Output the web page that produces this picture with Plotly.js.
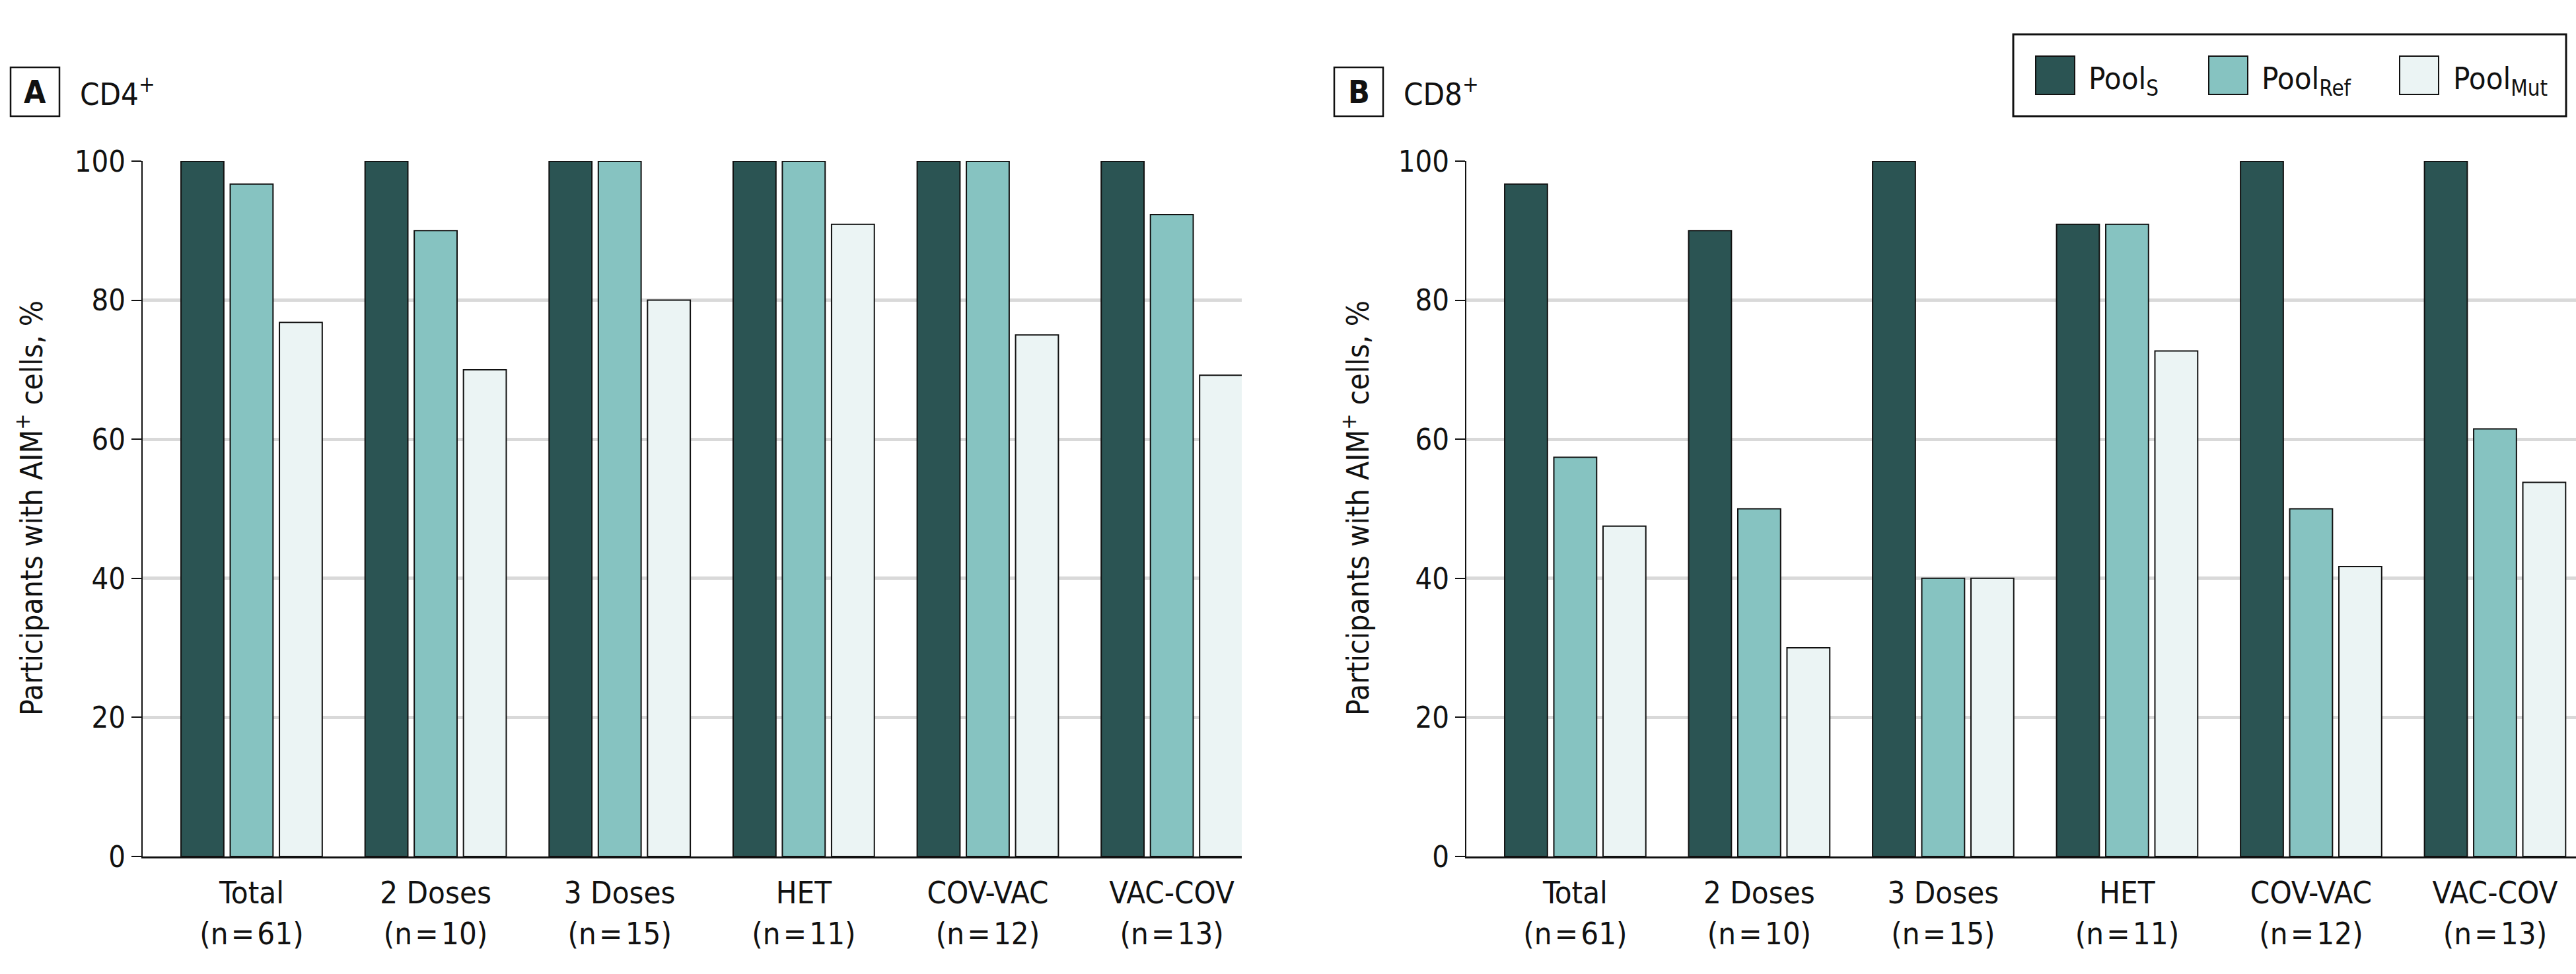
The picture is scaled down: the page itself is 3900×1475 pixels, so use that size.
<!DOCTYPE html>
<html>
<head>
<meta charset="utf-8">
<script src="https://cdn.plot.ly/plotly-3.0.1.min.js"></script>
<style>html,body{margin:0;padding:0;background:#fff;}#chart{width:3900px;height:1475px;}</style>
</head>
<body>
<div id="chart"></div>
<script>
// ---- data ----
const categories = ['Total', '2 Doses', '3 Doses', 'HET', 'COV-VAC', 'VAC-COV'];
const nCounts = [61, 10, 15, 11, 12, 13];
const seriesNames = ['Pool<sub>S</sub>', 'Pool<sub>Ref</sub>', 'Pool<sub>Mut</sub>'];
const cd4PoolS   = [100, 100, 100, 100, 100, 100];
const cd4PoolRef = [96.7, 90.0, 100, 100, 100, 92.3];
const cd4PoolMut = [76.8, 70.0, 80.0, 90.9, 75.0, 69.2];
const cd8PoolS   = [96.7, 90.0, 100, 90.9, 100, 100];
const cd8PoolRef = [57.4, 50.0, 40.0, 90.9, 50.0, 61.5];
const cd8PoolMut = [47.5, 30.0, 40.0, 72.7, 41.7, 53.8];
const yTicks = [0, 20, 40, 60, 80, 100];
const panelLetters = ['A', 'B'];
const panelTitles = ['CD4<sup>+</sup>', 'CD8<sup>+</sup>'];
const yTitle = 'Participants with AIM<sup>+</sup> cells, %';

// ---- style ----
const W = 3900, H = 1475;
const FONT = '"DejaVu Sans Condensed", "Liberation Sans Narrow", "DejaVu Sans", sans-serif';
const colors = ['#2b5453', '#86c3c1', '#ebf4f4'];
const px = x => x / W;
const py = y => 1 - y / H;

const tickText = categories.map((c, i) => c + '<br>(n\u200A=\u200A' + nCounts[i] + ')');
const xIdx = categories.map((c, i) => i);

const panels = [
  {vals: [cd4PoolS, cd4PoolRef, cd4PoolMut], xa: 'x', ya: 'y'},
  {vals: [cd8PoolS, cd8PoolRef, cd8PoolMut], xa: 'x2', ya: 'y2'}
];
const traces = [];
panels.forEach(p => {
  p.vals.forEach((v, k) => {
    traces.push({
      type: 'bar', x: xIdx, y: v, name: seriesNames[k],
      xaxis: p.xa, yaxis: p.ya, showlegend: false,
      marker: {color: colors[k], line: {color: '#111', width: 2}},
      hoverinfo: 'y'
    });
  });
});

const yDom = [py(1297), py(244)];
function xaxisDef(dom, rng) {
  return {
    domain: dom, range: rng, tickmode: 'array', tickvals: xIdx, ticktext: tickText,
    showline: true, linecolor: '#111', linewidth: 3, ticks: '', showgrid: false, zeroline: false,
    ticklabelstandoff: 12,
    tickfont: {family: FONT, size: 47, color: '#111'}, fixedrange: true
  };
}
function yaxisDef(anchor) {
  return {
    domain: yDom, range: [0, 100], anchor: anchor, tickmode: 'array', tickvals: yTicks,
    showline: true, linecolor: '#111', linewidth: 2, ticks: 'outside', ticklen: 15, tickwidth: 2, tickcolor: '#111',
    showgrid: true, gridcolor: '#d9d9d9', gridwidth: 5, zeroline: false,
    tickfont: {family: FONT, size: 45, color: '#111'}, fixedrange: true
  };
}

const shapes = [];
const annotations = [];
// panel label boxes and titles
const panelBoxX = [16, 2020];
const panelTitleX = [119, 2123];
const yTitleX = [45, 2053];
panelLetters.forEach((L, i) => {
  shapes.push({type: 'rect', xref: 'paper', yref: 'paper', x0: px(panelBoxX[i]), x1: px(panelBoxX[i] + 74), y0: py(176), y1: py(102), line: {color: '#111', width: 2.5}, fillcolor: 'rgba(0,0,0,0)'});
  annotations.push({xref: 'paper', yref: 'paper', x: px(panelBoxX[i] + 37), y: py(139), text: '<b>' + L + '</b>', showarrow: false, xanchor: 'center', yanchor: 'middle', font: {family: FONT, size: 48, color: '#111'}});
  annotations.push({xref: 'paper', yref: 'paper', x: px(panelTitleX[i]), y: py(139), text: panelTitles[i], showarrow: false, xanchor: 'left', yanchor: 'middle', font: {family: FONT, size: 47, color: '#111'}});
  annotations.push({xref: 'paper', yref: 'paper', x: px(yTitleX[i]), y: py(770), text: yTitle, textangle: -90, showarrow: false, xanchor: 'center', yanchor: 'middle', font: {family: FONT, size: 46, color: '#111'}});
});

// legend (drawn manually for large swatches)
shapes.push({type: 'rect', xref: 'paper', yref: 'paper', x0: px(3048), x1: px(3885), y0: py(176), y1: py(52), line: {color: '#111', width: 3}, fillcolor: '#fff'});
const swX = [3082, 3344, 3633];
const txX = [3160, 3422, 3712];
seriesNames.forEach((n, k) => {
  shapes.push({type: 'rect', xref: 'paper', yref: 'paper', x0: px(swX[k]), x1: px(swX[k] + 59), y0: py(143), y1: py(85), line: {color: '#111', width: 2}, fillcolor: colors[k]});
  annotations.push({xref: 'paper', yref: 'paper', x: px(txX[k]), y: py(122), text: n, showarrow: false, xanchor: 'left', yanchor: 'middle', font: {family: FONT, size: 47, color: '#111'}});
});

const layout = {
  width: W, height: H, margin: {l: 0, r: 0, t: 0, b: 0},
  paper_bgcolor: '#fff', plot_bgcolor: '#fff',
  barmode: 'group', bargap: 0.198, bargroupgap: 0.13,
  xaxis: xaxisDef([px(216), px(1880)], [-0.592, 5.38]),
  yaxis: yaxisDef('x'),
  xaxis2: xaxisDef([px(2220), 1], [-0.592, 5.44]),
  yaxis2: yaxisDef('x2'),
  shapes: shapes, annotations: annotations,
  font: {family: FONT, color: '#111'}
};
Plotly.newPlot('chart', traces, layout, {displayModeBar: false, staticPlot: true});
</script>
</body>
</html>
